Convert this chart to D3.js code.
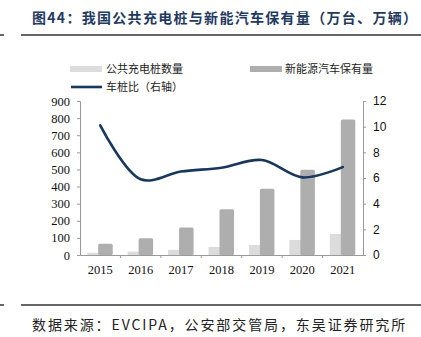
<!DOCTYPE html>
<html>
<head>
<meta charset="utf-8">
<script src="https://cdn.jsdelivr.net/npm/d3@7"></script>
<style>
  body { margin: 0; background: #fff; }
  svg { display: block; }
</style>
</head>
<body>
<svg id="chart" width="421" height="337"></svg>
<script>
// Years on the category axis
const years = ["2015", "2016", "2017", "2018", "2019", "2020", "2021"];
// Public charging piles (10k units)
const chargers = [13, 20, 30, 47, 58, 88, 123];
// New-energy vehicle fleet (10k vehicles)
const vehicles = [66, 98, 160, 268, 387, 498, 792];
// Vehicle-to-pile ratio (right axis)
const ratio = [10.1, 5.9, 6.5, 6.8, 7.4, 6.05, 6.85];
// Axis ticks
const leftTicks = [0, 100, 200, 300, 400, 500, 600, 700, 800, 900];
const rightTicks = [0, 2, 4, 6, 8, 10, 12];

const svg = d3.select("#chart");
const serif = "'Liberation Serif', 'Times New Roman', serif";
const sans = "'Liberation Sans', Arial, sans-serif";
const cjk = "'Noto Sans CJK SC', sans-serif";

const plot = { left: 80, right: 363, top: 101, bottom: 255 };

const x = d3.scaleBand().domain(years).range([plot.left, plot.right]).padding(0);
const yL = d3.scaleLinear().domain([0, 900]).range([plot.bottom, plot.top]);
const yR = d3.scaleLinear().domain([0, 12]).range([plot.bottom, plot.top]);

// Title and rules
svg.append("text")
  .attr("x", 32).attr("y", 23)
  .attr("font-family", cjk).attr("font-weight", "bold")
  .attr("font-size", 14).attr("letter-spacing", 1.3)
  .attr("fill", "#1f3a60")
  .text("图44：我国公共充电桩与新能汽车保有量（万台、万辆）");

[35, 305].forEach((yy) => {
  svg.append("line").attr("x1", 0).attr("x2", 4).attr("y1", yy).attr("y2", yy)
    .attr("stroke", "#333").attr("stroke-width", 1.5);
  svg.append("line").attr("x1", 21).attr("x2", 421).attr("y1", yy).attr("y2", yy)
    .attr("stroke", "#333").attr("stroke-width", 1.5);
});

svg.append("text")
  .attr("x", 32).attr("y", 330)
  .attr("font-family", cjk).attr("font-size", 14).attr("letter-spacing", 1.9)
  .attr("fill", "#222")
  .text("数据来源：EVCIPA，公安部交管局，东吴证券研究所");

// Bars
const barW = 14;
svg.append("g").selectAll("rect").data(years).join("rect")
  .attr("x", (d) => x(d) + x.bandwidth() / 2 - 13)
  .attr("y", (d, i) => yL(chargers[i]))
  .attr("width", barW)
  .attr("height", (d, i) => yL(0) - yL(chargers[i]))
  .attr("fill", "#dcdcdc");

svg.append("g").selectAll("rect").data(years).join("rect")
  .attr("x", (d) => x(d) + x.bandwidth() / 2 - 2)
  .attr("y", (d, i) => yL(vehicles[i]))
  .attr("width", barW + 0.5)
  .attr("height", (d, i) => yL(0) - yL(vehicles[i]))
  .attr("rx", 1.5)
  .attr("fill", "#aeaeae");

// Ratio line
const line = d3.line()
  .x((d, i) => x(years[i]) + x.bandwidth() / 2)
  .y((d) => yR(d))
  .curve(d3.curveCatmullRom.alpha(0.5));
svg.append("path").datum(ratio)
  .attr("d", line)
  .attr("fill", "none")
  .attr("stroke", "#18375e")
  .attr("stroke-width", 2.6)
  .attr("stroke-linecap", "round");

// Axes
const axisColor = "#9a9a9a";
function styleAxis(g, font, size) {
  g.select(".domain").attr("stroke", axisColor);
  g.selectAll(".tick line").attr("stroke", axisColor);
  g.selectAll(".tick text").attr("fill", "#111")
    .attr("font-family", font).attr("font-size", size);
}

const gL = svg.append("g").attr("transform", `translate(${plot.left},0)`)
  .call(d3.axisLeft(yL).tickValues(leftTicks).tickSize(3).tickSizeOuter(3).tickPadding(7));
styleAxis(gL, serif, 12.5);

const gR = svg.append("g").attr("transform", `translate(${plot.right},0)`)
  .call(d3.axisRight(yR).tickValues(rightTicks).tickSize(3).tickSizeOuter(3).tickPadding(7));
styleAxis(gR, sans, 12);

const gX = svg.append("g").attr("transform", `translate(0,${plot.bottom})`)
  .call(d3.axisBottom(x).tickSize(0).tickPadding(10));
gX.select(".domain").attr("stroke", axisColor);
gX.selectAll(".tick text").attr("fill", "#111")
  .attr("font-family", serif).attr("font-size", 12.5);
// separators between categories
gX.selectAll(".sep").data(years.slice(1)).join("line")
  .attr("x1", (d) => x(d)).attr("x2", (d) => x(d))
  .attr("y1", 0).attr("y2", 3)
  .attr("stroke", axisColor);

// Legend
const lg = svg.append("g").attr("font-family", cjk).attr("font-size", 11).attr("fill", "#222");
lg.append("rect").attr("x", 70).attr("y", 66).attr("width", 32).attr("height", 6).attr("fill", "#dcdcdc");
lg.append("text").attr("x", 106).attr("y", 73).text("公共充电桩数量");
lg.append("rect").attr("x", 250).attr("y", 66).attr("width", 32).attr("height", 6).attr("fill", "#aeaeae");
lg.append("text").attr("x", 285).attr("y", 73).text("新能源汽车保有量");
lg.append("line").attr("x1", 71).attr("x2", 102).attr("y1", 87).attr("y2", 87)
  .attr("stroke", "#18375e").attr("stroke-width", 2.6);
lg.append("text").attr("x", 106).attr("y", 91).text("车桩比（右轴）");
</script>
</body>
</html>
